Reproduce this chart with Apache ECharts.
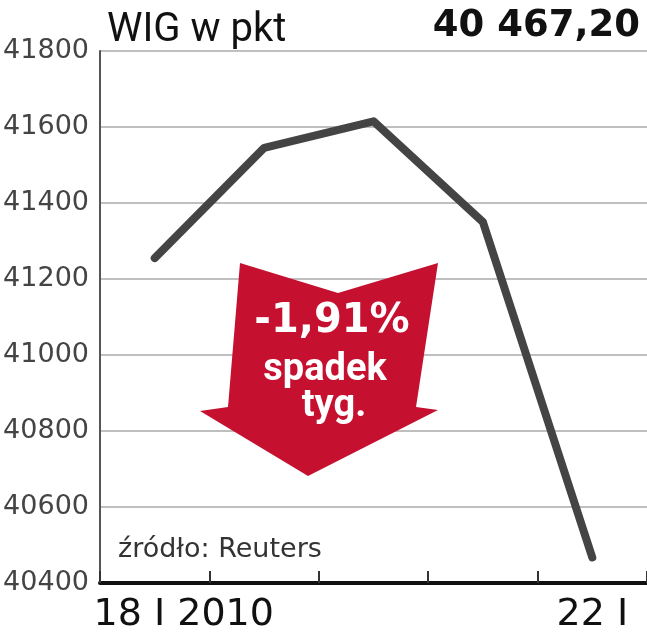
<!DOCTYPE html>
<html>
<head>
<meta charset="utf-8">
<script src="https://cdn.jsdelivr.net/npm/echarts@6/dist/echarts.min.js"></script>
<style>
  html, body { margin: 0; padding: 0; background: #fff; }
  #chart { width: 647px; height: 640px; }
</style>
</head>
<body>
<div id="chart"></div>
<script>
// dane: notowania WIG, 18-22 I 2010
const days = ['18 I 2010', '19 I', '20 I', '21 I', '22 I'];
const axisLabels = ['18 I 2010', '', '', '', '22 I'];
const wig = [41255, 41545, 41615, 41350, 40467.2];
const yMin = 40400;
const yMax = 41800;
const yStep = 200;

const chart = echarts.init(document.getElementById('chart'));

const option = {
  backgroundColor: '#fff',
  animation: false,
  grid: { left: 100, right: 0, top: 51, bottom: 57 },
  xAxis: {
    type: 'category',
    data: days,
    boundaryGap: true,
    axisLine: { lineStyle: { color: '#111', width: 4 } },
    axisTick: { show: true, interval: 0, inside: true, length: 12, lineStyle: { color: '#333', width: 2 } },
    axisLabel: {
      interval: 0,
      margin: 13,
      color: '#111',
      fontFamily: 'DejaVu Sans',
      fontSize: 38,
      formatter: function (v, i) {
        const t = axisLabels[i];
        if (!t) return '';
        return i === 0 ? '{first|' + t + '}' : t;
      },
      rich: {
        first: { fontFamily: 'DejaVu Sans', fontSize: 38, color: '#111', padding: [0, 0, 0, 58] }
      }
    }
  },
  yAxis: {
    type: 'value',
    min: yMin,
    max: yMax,
    interval: yStep,
    axisLine: { show: true, lineStyle: { color: '#555', width: 2 } },
    axisTick: { show: false },
    axisLabel: {
      margin: 11,
      color: '#444',
      fontFamily: 'DejaVu Sans',
      fontSize: 27,
      formatter: function (v) { return String(v); }
    },
    splitLine: { lineStyle: { color: '#aaa', width: 1.5 } }
  },
  series: [{
    type: 'line',
    data: wig,
    symbol: 'none',
    lineStyle: { color: '#444', width: 8, cap: 'round', join: 'round' },
    z: 3
  }],
  graphic: [
    {
      type: 'text', left: 107, top: 11, z: 10,
      style: { text: 'WIG w pkt', fill: '#111', font: '40px Roboto' }
    },
    {
      type: 'text', right: 7, top: 8, z: 10,
      style: { text: '40 467,20', fill: '#111', font: 'bold 37px "DejaVu Sans"' }
    },
    {
      type: 'text', left: 118, top: 536, z: 10,
      style: { text: 'źródło: Reuters', fill: '#333', font: '27px "DejaVu Sans"' }
    },
    {
      type: 'polygon', z: 10,
      shape: { points: [[240, 263], [338, 293], [438, 263], [416, 407], [438, 410], [308, 476], [200, 411], [228, 407]] },
      style: { fill: '#c5102f' }
    },
    {
      type: 'text', z: 11, x: 332, y: 322,
      style: { text: '-1,91%', fill: '#fff', font: 'bold 40px "DejaVu Sans"', align: 'center', verticalAlign: 'middle' }
    },
    {
      type: 'text', z: 11, x: 325, y: 370,
      style: { text: 'spadek', fill: '#fff', font: 'bold 38px Roboto', align: 'center', verticalAlign: 'middle' }
    },
    {
      type: 'text', z: 11, x: 334, y: 406,
      style: { text: 'tyg.', fill: '#fff', font: 'bold 38px Roboto', align: 'center', verticalAlign: 'middle' }
    }
  ]
};

chart.setOption(option);
</script>
</body>
</html>
